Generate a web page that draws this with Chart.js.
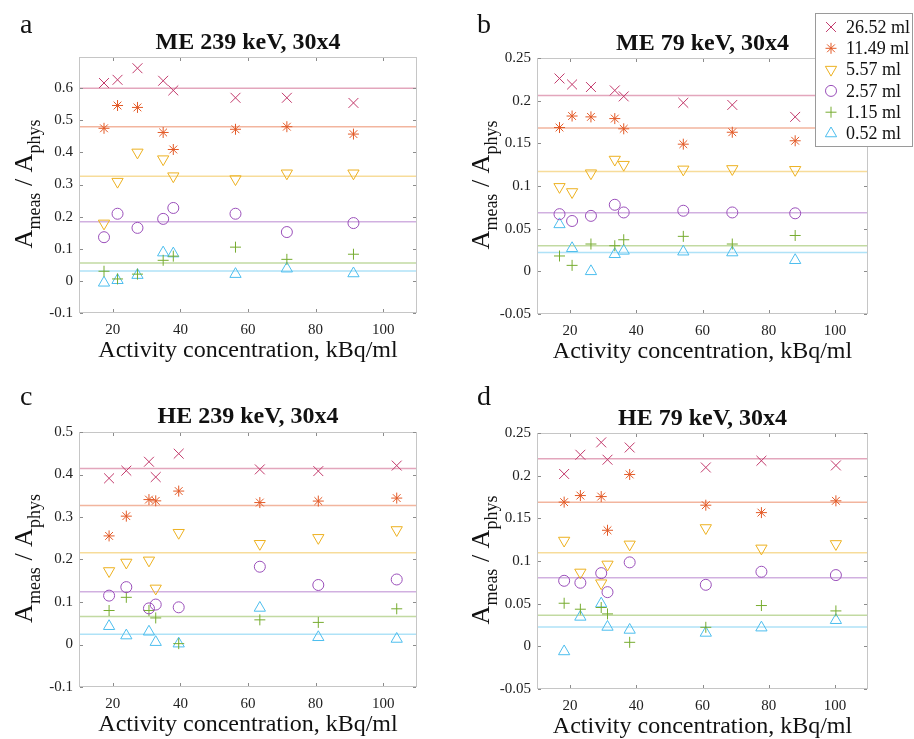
<!DOCTYPE html>
<html>
<head>
<meta charset="utf-8">
<script src="https://cdn.jsdelivr.net/npm/chart.js@4.4.1/dist/chart.umd.min.js"></script>
<style>
  html, body { margin: 0; padding: 0; background: #ffffff; }
  body { width: 914px; height: 739px; position: relative; overflow: hidden; }
  .panel { position: absolute; }
</style>
</head>
<body>
<div class="panel" style="left:0px;top:0px;"><canvas id="cA" width="457" height="370"></canvas></div>
<div class="panel" style="left:457px;top:0px;"><canvas id="cB" width="457" height="370"></canvas></div>
<div class="panel" style="left:0px;top:370px;"><canvas id="cC" width="457" height="369"></canvas></div>
<div class="panel" style="left:457px;top:370px;"><canvas id="cD" width="457" height="369"></canvas></div>
<script>
// ---------------- DATA ----------------
const volumes = ['26.52 ml', '11.49 ml', '5.57 ml', '2.57 ml', '1.15 ml', '0.52 ml'];
const panelTitles = ['ME 239 keV, 30x4', 'ME 79 keV, 30x4', 'HE 239 keV, 30x4', 'HE 79 keV, 30x4'];
const panelLetters = ['a', 'b', 'c', 'd'];
const xAxisTitle = 'Activity concentration, kBq/ml';

const xTicks = [20, 40, 60, 80, 100];
const yTicksA = [-0.1, 0, 0.1, 0.2, 0.3, 0.4, 0.5, 0.6];
const yTicksB = [-0.05, 0, 0.05, 0.1, 0.15, 0.2, 0.25];
const yTicksC = [-0.1, 0, 0.1, 0.2, 0.3, 0.4, 0.5];
const yTicksD = [-0.05, 0, 0.05, 0.1, 0.15, 0.2, 0.25];

// Panel a: ME 239 keV
const concA = [17.4, 21.4, 27.3, 34.9, 37.9, 56.3, 71.5, 91.2];
const a_2652 = [0.616, 0.626, 0.662, 0.623, 0.593, 0.570, 0.570, 0.554];
const a_1149 = [0.475, 0.546, 0.540, 0.462, 0.409, 0.472, 0.480, 0.457];
const a_557  = [0.179, 0.309, 0.400, 0.379, 0.326, 0.317, 0.335, 0.335];
const a_257  = [0.136, 0.209, 0.165, 0.193, 0.227, 0.209, 0.152, 0.180];
const a_115  = [0.030, 0.006, 0.021, 0.064, 0.077, 0.105, 0.067, 0.083];
const a_052  = [-0.006, 0.002, 0.018, 0.088, 0.085, 0.021, 0.038, 0.023];
const meanA  = [0.600, 0.480, 0.326, 0.184, 0.056, 0.031];

// Panel b: ME 79 keV
const concB = [16.8, 20.6, 26.3, 33.5, 36.2, 54.2, 69.0, 88.0];
const b_2652 = [0.226, 0.219, 0.216, 0.212, 0.205, 0.1975, 0.195, 0.181];
const b_1149 = [0.1685, 0.182, 0.181, 0.179, 0.167, 0.149, 0.163, 0.153];
const b_557  = [0.099, 0.093, 0.115, 0.131, 0.125, 0.1195, 0.120, 0.119];
const b_257  = [0.067, 0.059, 0.065, 0.078, 0.069, 0.071, 0.069, 0.068];
const b_115  = [0.018, 0.007, 0.032, 0.030, 0.037, 0.041, 0.032, 0.042];
const b_052  = [0.055, 0.027, 0.000, 0.020, 0.024, 0.023, 0.022, 0.013];
const meanB  = [0.206, 0.168, 0.117, 0.0686, 0.030, 0.022];

// Panel c: HE 239 keV
const concC = [18.9, 24.0, 30.7, 32.7, 39.5, 63.5, 80.8, 104.0];
const c_2652 = [0.391, 0.409, 0.430, 0.394, 0.449, 0.412, 0.408, 0.421];
const c_1149 = [0.2555, 0.302, 0.341, 0.338, 0.361, 0.334, 0.3375, 0.3445];
const c_557  = [0.173, 0.193, 0.198, 0.132, 0.263, 0.237, 0.251, 0.2695];
const c_257  = [0.115, 0.135, 0.085, 0.094, 0.0875, 0.183, 0.140, 0.153];
const c_115  = [0.080, 0.111, 0.080, 0.0625, 0.002, 0.058, 0.052, 0.084];
const c_052  = [0.043, 0.021, 0.030, 0.0055, 0.002, 0.086, 0.017, 0.013];
const meanC  = [0.414, 0.327, 0.216, 0.124, 0.0656, 0.024];

// Panel d: HE 79 keV
const concD = [18.2, 23.1, 29.4, 31.3, 38.0, 61.0, 77.8, 100.3];
const d_2652 = [0.202, 0.2245, 0.239, 0.2187, 0.233, 0.2096, 0.2175, 0.212];
const d_1149 = [0.169, 0.1767, 0.1755, 0.136, 0.2014, 0.1654, 0.1567, 0.1705];
const d_557  = [0.124, 0.0866, 0.074, 0.096, 0.1195, 0.1387, 0.1148, 0.120];
const d_257  = [0.0768, 0.0745, 0.0858, 0.0635, 0.0984, 0.0721, 0.0874, 0.0835];
const d_115  = [0.0505, 0.0435, 0.0455, 0.038, 0.0047, 0.0223, 0.0478, 0.0415];
const d_052  = [-0.006, 0.0345, 0.050, 0.0227, 0.0192, 0.0157, 0.0219, 0.0306];
const meanD  = [0.2198, 0.1689, 0.1097, 0.0803, 0.0364, 0.0227];

// ---------------- STYLES ----------------
const markerColors = ['#C2396B', '#E35A27', '#EDB120', '#9A4FBA', '#77AC30', '#4DBEEE'];
const lineAlpha = 0.45;
const markerStyles = ['crossRot', 'star', 'triangle', 'circle', 'cross', 'triangle'];
const markerRotation = [0, 0, 180, 0, 0, 0];
const markerRadius = [7, 5.5, 6.5, 5.5, 5.5, 6.5];
const SERIF = '"Liberation Serif", "Times New Roman", serif';

function hexToRgba(hex, a) {
  const n = parseInt(hex.slice(1), 16);
  return 'rgba(' + ((n >> 16) & 255) + ',' + ((n >> 8) & 255) + ',' + (n & 255) + ',' + a + ')';
}
function fmt(v) { return String(Number(v.toFixed(3))); }

const panels = [
  { canvas: 'cA', conc: concA, series: [a_2652, a_1149, a_557, a_257, a_115, a_052], means: meanA,
    yMin: -0.1, yMax: 0.697, yTicks: yTicksA, area: { l: 79, t: 57, r: 417, b: 313 }, titleY: 49, letterY: 33, legend: false },
  { canvas: 'cB', conc: concB, series: [b_2652, b_1149, b_557, b_257, b_115, b_052], means: meanB,
    yMin: -0.05, yMax: 0.25, yTicks: yTicksB, area: { l: 80, t: 58, r: 411, b: 314 }, titleY: 50, letterY: 33, legend: true },
  { canvas: 'cC', conc: concC, series: [c_2652, c_1149, c_557, c_257, c_115, c_052], means: meanC,
    yMin: -0.1, yMax: 0.5, yTicks: yTicksC, area: { l: 79, t: 62, r: 417, b: 317 }, titleY: 53, letterY: 35, legend: false },
  { canvas: 'cD', conc: concD, series: [d_2652, d_1149, d_557, d_257, d_115, d_052], means: meanD,
    yMin: -0.05, yMax: 0.25, yTicks: yTicksD, area: { l: 80, t: 63, r: 411, b: 319 }, titleY: 55, letterY: 35, legend: false }
];

function drawMarker(ctx, i, x, y) {
  ctx.save();
  ctx.strokeStyle = markerColors[i];
  ctx.fillStyle = 'rgba(0,0,0,0)';
  ctx.lineWidth = 1;
  if (Chart.helpers && Chart.helpers.drawPoint) {
    Chart.helpers.drawPoint(ctx, { pointStyle: markerStyles[i], radius: markerRadius[i], rotation: markerRotation[i], borderWidth: 1 }, x, y);
  } else {
    ctx.beginPath(); ctx.arc(x, y, markerRadius[i], 0, Math.PI * 2); ctx.stroke();
  }
  ctx.restore();
}

function decorPlugin(pi, idx) {
  return {
    id: 'decor' + idx,
    afterDraw(chart) {
      const ctx = chart.ctx;
      const ca = chart.chartArea;
      const xs = chart.scales.x, ys = chart.scales.y;
      ctx.save();
      // box
      ctx.strokeStyle = '#c6c6c6';
      ctx.lineWidth = 1;
      ctx.strokeRect(Math.round(ca.left) + 0.5, Math.round(ca.top) + 0.5, Math.round(ca.right - ca.left) - 1, Math.round(ca.bottom - ca.top) - 1);
      // inner ticks
      ctx.strokeStyle = '#8c8c8c';
      ctx.beginPath();
      xTicks.forEach(v => {
        const px = Math.round(xs.getPixelForValue(v)) + 0.5;
        ctx.moveTo(px, ca.bottom - 1); ctx.lineTo(px, ca.bottom - 4);
        ctx.moveTo(px, ca.top + 1); ctx.lineTo(px, ca.top + 4);
      });
      pi.yTicks.forEach(v => {
        const py = Math.round(ys.getPixelForValue(v)) + 0.5;
        ctx.moveTo(ca.left + 1, py); ctx.lineTo(ca.left + 4, py);
        ctx.moveTo(ca.right - 1, py); ctx.lineTo(ca.right - 4, py);
      });
      ctx.stroke();
      ctx.fillStyle = '#111';
      // title
      ctx.font = 'bold 24px ' + SERIF;
      ctx.textAlign = 'center';
      ctx.textBaseline = 'alphabetic';
      ctx.fillText(panelTitles[idx], (ca.left + ca.right) / 2, pi.titleY);
      // letter
      ctx.font = '28px ' + SERIF;
      ctx.textAlign = 'left';
      ctx.fillText(panelLetters[idx], 20, pi.letterY);
      // x title
      ctx.font = '24px ' + SERIF;
      ctx.textAlign = 'center';
      ctx.fillText(xAxisTitle, (ca.left + ca.right) / 2, ca.bottom + 44);
      // y title with subscripts
      const big = '26px ' + SERIF, small = '18px ' + SERIF;
      const parts = [['A', big, 0], ['meas', small, 8], [' / ', big, 0], ['A', big, 0], ['phys', small, 8]];
      let total = 0;
      parts.forEach(p => { ctx.font = p[1]; p.w = ctx.measureText(p[0]).width; total += p.w; });
      ctx.translate(32, (ca.top + ca.bottom) / 2 - 1);
      ctx.rotate(-Math.PI / 2);
      ctx.textAlign = 'left';
      let u = -total / 2;
      parts.forEach(p => { ctx.font = p[1]; ctx.fillText(p[0], u, p[2]); u += p.w; });
      ctx.restore();

      if (pi.legend) {
        ctx.save();
        const L = 358, T = 13, R = 456, B = 147;
        ctx.fillStyle = '#ffffff';
        ctx.fillRect(L, T, R - L, B - T);
        ctx.strokeStyle = '#9a9a9a';
        ctx.lineWidth = 1;
        ctx.strokeRect(L + 0.5, T + 0.5, R - L - 1, B - T - 1);
        ctx.font = '18px ' + SERIF;
        ctx.textAlign = 'left';
        ctx.textBaseline = 'middle';
        volumes.forEach((name, i) => {
          const yy = 27 + i * 21.3;
          drawMarker(ctx, i, 374, yy);
          ctx.fillStyle = '#111';
          ctx.fillText(name, 389, yy + 1);
        });
        ctx.restore();
      }
    }
  };
}

panels.forEach((pi, idx) => {
  const cv = document.getElementById(pi.canvas);
  const W = cv.width, H = cv.height;
  const datasets = [];
  // mean lines
  pi.means.forEach((m, i) => {
    datasets.push({
      type: 'line', label: volumes[i] + ' mean',
      data: [{ x: 10, y: m }, { x: 110, y: m }],
      borderColor: hexToRgba(markerColors[i], lineAlpha), borderWidth: 1.5,
      pointRadius: 0, showLine: true, fill: false, order: 10
    });
  });
  // markers
  pi.series.forEach((vals, i) => {
    datasets.push({
      type: 'scatter', label: volumes[i],
      data: vals.map((v, k) => ({ x: pi.conc[k], y: v })),
      pointStyle: markerStyles[i], pointRotation: markerRotation[i], pointRadius: markerRadius[i],
      pointHoverRadius: markerRadius[i],
      borderColor: markerColors[i], backgroundColor: 'rgba(0,0,0,0)', pointBorderWidth: 1, borderWidth: 1,
      order: 1
    });
  });
  new Chart(cv, {
    type: 'scatter',
    data: { datasets },
    options: {
      responsive: false, animation: false, devicePixelRatio: 1,
      layout: { padding: { left: 0, top: pi.area.t, right: W - pi.area.r, bottom: 0 } },
      plugins: { legend: { display: false }, title: { display: false }, tooltip: { enabled: false } },
      scales: {
        x: {
          type: 'linear', min: 10, max: 110,
          grid: { display: false, drawTicks: false }, border: { display: false },
          afterBuildTicks: s => { s.ticks = xTicks.map(v => ({ value: v })); },
          afterFit: s => { s.height = H - pi.area.b; },
          ticks: { padding: 8, color: '#222', font: { family: SERIF, size: 15 }, callback: v => fmt(v), maxRotation: 0, autoSkip: false }
        },
        y: {
          type: 'linear', min: pi.yMin, max: pi.yMax,
          grid: { display: false, drawTicks: false }, border: { display: false },
          afterBuildTicks: s => { s.ticks = pi.yTicks.map(v => ({ value: v })); },
          afterFit: s => { s.width = pi.area.l; },
          ticks: { padding: 6, color: '#222', font: { family: SERIF, size: 15 }, callback: v => fmt(v), autoSkip: false }
        }
      }
    },
    plugins: [decorPlugin(pi, idx)]
  });
});
</script>
</body>
</html>
